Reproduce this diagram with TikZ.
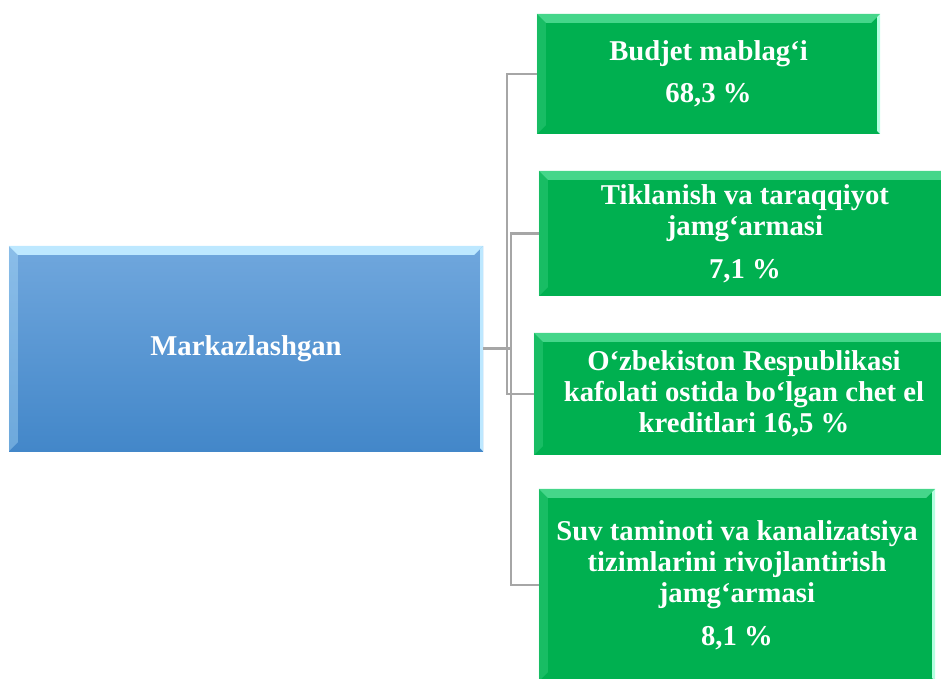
\documentclass[tikz,border=0pt]{standalone}
\usepackage{fontspec}
\setmainfont{Liberation Serif}
\usetikzlibrary{positioning}
\definecolor{fundgreen}{HTML}{00B050}
\definecolor{bevelgreen}{HTML}{45D68A}
\definecolor{edgegreen}{HTML}{B4FFE0}
\definecolor{skyblue}{HTML}{70A7DD}
\definecolor{deepblue}{HTML}{4387C9}
\definecolor{bevelblue}{HTML}{BDE8FF}
\definecolor{linkgray}{HTML}{A6A6A6}
\tikzset{mainbox/.style={rectangle,top color=skyblue,bottom color=deepblue,text=white,align=center,inner sep=0pt,font=\bfseries\fontsize{28.7}{32}\selectfont},
         fundbox/.style={rectangle,fill=fundgreen,text=white,align=center,inner sep=0pt,font=\bfseries\fontsize{28.7}{31}\selectfont},
         link/.style={draw=linkgray,line width=2.2pt}}
% bevelled edges of a box: node, top colour, right colour
\newcommand{\bevel}[3]{%
  \fill[#2] (#1.north west) -- (#1.north east) -- ([shift={(-9pt,-9pt)}]#1.north east) -- ([shift={(9pt,-9pt)}]#1.north west) -- cycle;
  \fill[#2,opacity=.35] (#1.north west) -- ([shift={(9pt,-9pt)}]#1.north west) -- ([shift={(9pt,9pt)}]#1.south west) -- (#1.south west) -- cycle;
  \fill[#3] (#1.north east) -- (#1.south east) -- ([shift={(-3pt,3pt)}]#1.south east) -- ([shift={(-3pt,-3pt)}]#1.north east) -- cycle;}

\begin{document}
\begin{tikzpicture}[x=1pt,y=-1pt]
    \useasboundingbox (0,0) rectangle (941,678);
    \clip (0,0) rectangle (941,678);
    % Boxes
    \node (central) at (246,348.5) [mainbox,minimum width=474pt,minimum height=205pt]{Markazlashgan};
    \node (budget) at (708.5,74) [fundbox,minimum width=343pt,minimum height=120pt]{Budjet mablag‘i\\[11pt]68,3 \%};
    \node (recovery) at (745,233.5) [fundbox,minimum width=412pt,minimum height=125pt]{Tiklanish va taraqqiyot\\jamg‘armasi\\[12pt]7,1 \%};
    \node (credits) at (744,394) [fundbox,minimum width=420pt,minimum height=122pt]{O‘zbekiston Respublikasi\\kafolati ostida bo‘lgan chet el\\kreditlari 16,5 \%};
    \node (water) at (737,585) [fundbox,minimum width=396pt,minimum height=192pt]{Suv taminoti va kanalizatsiya\\tizimlarini rivojlantirish\\jamg‘armasi\\[12pt]8,1 \%};
    % Bevels
    \bevel{central}{bevelblue}{bevelblue}
    \bevel{budget}{bevelgreen}{edgegreen}
    \bevel{recovery}{bevelgreen}{edgegreen}
    \bevel{credits}{bevelgreen}{edgegreen}
    \bevel{water}{bevelgreen}{edgegreen}
    % Connectors
    \coordinate (busA) at (507,0);
    \coordinate (busB) at (511,0);
    \draw[link] (budget.west) -- (budget.west -| busA) -- (credits.west -| busA) -- (credits.west);
    \draw[link] (recovery.west) -- (recovery.west -| busB) -- (water.west -| busB) -- (water.west);
    \draw[link] (central.east) -- (central.east -| busB);
\end{tikzpicture}
\end{document}
